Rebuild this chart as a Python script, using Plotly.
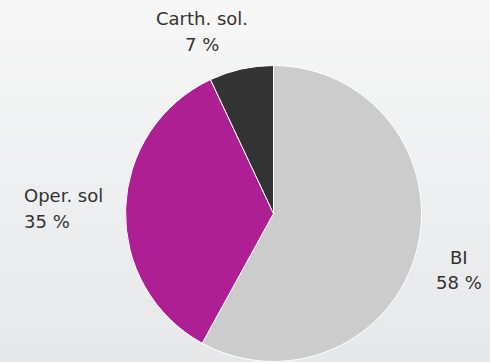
import plotly.graph_objects as go

# slices listed clockwise from 12 o'clock
labels = ["BI", "Oper. sol", "Carth. sol."]
values = [58, 35, 7]
colors = ["#cccccc", "#ae1f94", "#333333"]

W, H = 490, 362
cx, cy, r = 273.5, 213.5, 148

fig = go.Figure()
fig.add_trace(go.Pie(
    labels=labels, values=values, sort=False, direction="clockwise",
    rotation=0, textinfo="none", hoverinfo="label+percent",
    marker=dict(colors=colors, line=dict(color="white", width=1)),
    domain=dict(x=[(cx - r) / W, (cx + r) / W],
                y=[max(0, 1 - (cy + r) / H), min(1, 1 - (cy - r) / H)]),
    showlegend=False,
))

# gradient background
shapes = []
n = 40
top = (247, 247, 247)
bot = (230, 232, 234)
for i in range(n):
    t = i / (n - 1)
    c = tuple(round(top[k] + (bot[k] - top[k]) * t) for k in range(3))
    shapes.append(dict(type="rect", xref="paper", yref="paper", x0=0, x1=1,
                       y0=1 - (i + 1) / n, y1=1 - i / n, line=dict(width=0),
                       fillcolor="rgb(%d,%d,%d)" % c, layer="below"))

# label placement (pixel positions of line centres), same order as labels
label_pos = [(459, 257.3, 282.3, "center"), (21.5, 195.0, 221.6, "left"), (202, 18.7, 45.0, "center")]
annotations = []
for lab, val, (x, y1, y2, al) in zip(labels, values, label_pos):
    for txt, yy in ((lab, y1), (f"{val} %", y2)):
        annotations.append(dict(text=txt, x=x / W, y=1 - yy / H, xref="paper", yref="paper",
                                xanchor=al, yanchor="middle", showarrow=False,
                                font=dict(family="DejaVu Sans", size=18, color="#333333")))

fig.update_layout(width=W, height=H, margin=dict(l=0, r=0, t=0, b=0),
                  paper_bgcolor="#efefef", plot_bgcolor="rgba(0,0,0,0)",
                  shapes=shapes, annotations=annotations)
fig.write_html("out.html")
